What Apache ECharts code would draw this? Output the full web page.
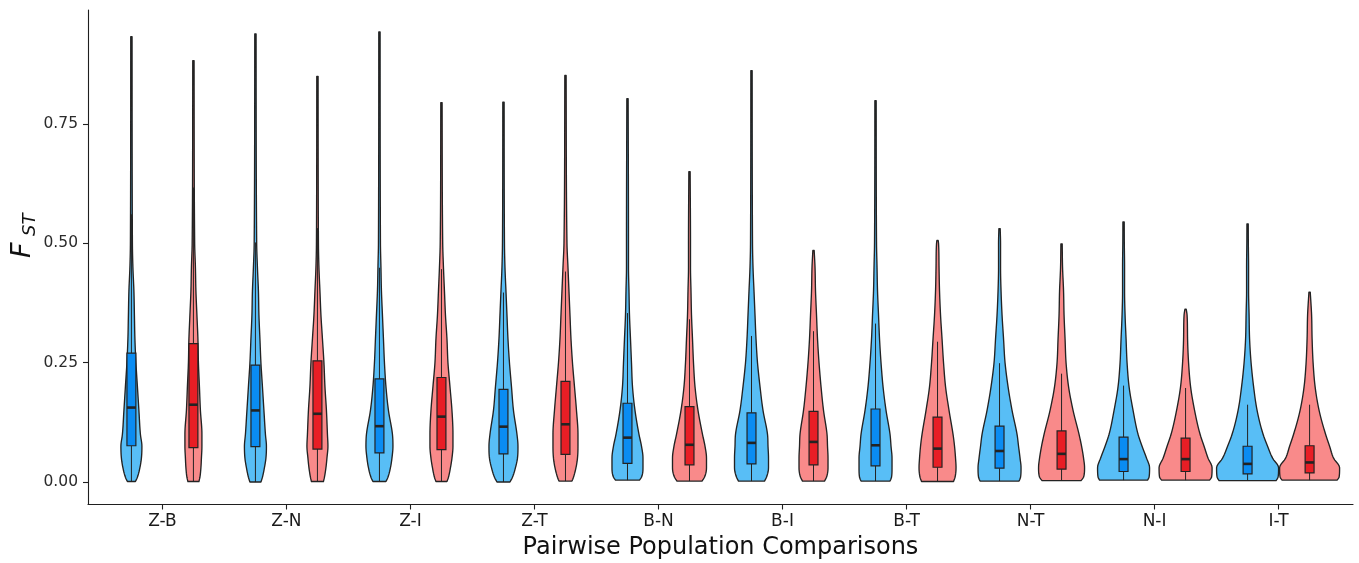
<!DOCTYPE html>
<html>
<head>
<meta charset="utf-8">
<script src="https://cdn.jsdelivr.net/npm/echarts@6/dist/echarts.min.js"></script>
<style>
  html, body { margin: 0; padding: 0; background: #ffffff; }
  #chart { width: 1359px; height: 563px; }
</style>
</head>
<body>
<div id="chart"></div>
<script>
// Pairwise population comparisons along the x axis
const categories = ['Z-B', 'Z-N', 'Z-I', 'Z-T', 'B-N', 'B-I', 'B-T', 'N-T', 'N-I', 'I-T'];
const yTicks = [0, 0.25, 0.5, 0.75];

// Box statistics, blue group
const blueMin    = [0.001, 0.000, 0.001, 0.000, 0.004, 0.002, 0.002, 0.002, 0.004, 0.003];
const blueQ1     = [0.076, 0.074, 0.061, 0.059, 0.039, 0.038, 0.034, 0.029, 0.022, 0.017];
const blueMedian = [0.156, 0.150, 0.117, 0.116, 0.093, 0.082, 0.077, 0.065, 0.048, 0.038];
const blueQ3     = [0.270, 0.245, 0.216, 0.194, 0.165, 0.145, 0.153, 0.117, 0.094, 0.075];
const blueUpper  = [0.561, 0.502, 0.449, 0.397, 0.354, 0.306, 0.332, 0.249, 0.202, 0.162];
const blueMax    = [0.933, 0.939, 0.943, 0.796, 0.803, 0.862, 0.799, 0.531, 0.545, 0.541];

// Box statistics, red group
const redMin    = [0.001, 0.001, 0.001, 0.002, 0.002, 0.002, 0.001, 0.003, 0.004, 0.004];
const redQ1     = [0.072, 0.069, 0.068, 0.058, 0.036, 0.036, 0.031, 0.027, 0.022, 0.019];
const redMedian = [0.162, 0.143, 0.137, 0.121, 0.078, 0.084, 0.070, 0.059, 0.048, 0.041];
const redQ3     = [0.290, 0.254, 0.219, 0.211, 0.158, 0.148, 0.136, 0.107, 0.092, 0.076];
const redUpper  = [0.617, 0.532, 0.446, 0.441, 0.341, 0.316, 0.294, 0.227, 0.197, 0.162];
const redMax    = [0.883, 0.850, 0.795, 0.852, 0.650, 0.485, 0.506, 0.499, 0.362, 0.398];

// Relative kernel density at these FST levels (first level = sample minimum)
const densityLevels = [0, 0.01, 0.03, 0.05, 0.075, 0.1, 0.15, 0.2, 0.25, 0.3, 0.35, 0.4, 0.45, 0.5];
const blueDensity = [
  [8, 12, 17, 20, 21, 18, 15, 12, 9, 7, 6, 5, 3, 2],
  [11, 14, 18, 21, 22, 20, 17, 14, 11, 9, 7, 6, 4, 2.5],
  [13, 17, 22, 25, 27, 26, 18, 13, 10, 8, 6, 4, 3, 2],
  [13, 18, 24, 28, 29, 27, 20, 16, 12, 9, 7, 5, 3, 2],
  [24, 28, 31, 31, 28, 23, 15, 10, 8, 6, 4, 3, 2, 2],
  [26, 30, 34, 34, 33, 32, 23, 17, 12, 9, 7, 5, 3, 2],
  [29, 32, 33, 33, 31, 29, 21, 15, 11, 8, 6, 4, 3, 2],
  [39, 42, 43, 41, 38, 35, 25, 17, 11, 8, 5, 3, 2, 2],
  [48, 51, 52, 46, 37, 29, 19, 11, 7, 5, 3, 2, 2, 1.5],
  [57, 61, 62, 50, 40, 31, 19, 12, 7, 4, 3, 2, 2, 1.5]
];
const redDensity = [
  [11, 13, 15, 16, 17, 17, 14, 12, 10, 9, 7, 5, 4, 2.5],
  [12, 14, 17, 19, 21, 20, 18, 15, 13, 10, 7, 5, 3, 2],
  [11, 14, 18, 21, 23, 23, 21, 17, 13, 11, 8, 6, 4, 2.5],
  [13, 16, 21, 24, 25, 25, 22, 18, 14, 11, 9, 7, 5, 3],
  [25, 30, 34, 34, 31, 26, 17, 11, 8, 6, 4, 3, 2, 2],
  [22, 26, 29, 29, 28, 27, 20, 15, 11, 8, 6, 4, 3, 2],
  [32, 35, 37, 36, 34, 31, 23, 16, 12, 9, 6, 4, 3, 2],
  [39, 44, 46, 44, 40, 35, 23, 14, 9, 7, 5, 4, 2, 2],
  [48, 52, 53, 45, 37, 29, 18, 10, 6, 4, 3, 2, 2, 1.5],
  [55, 59, 60, 48, 40, 32, 19, 11, 7, 5, 4, 2, 2, 1.5]
];
const tailDensity = 1.3;

const FONT = 'DejaVu Sans';
const OUTLINE = '#232323';
const DODGE = 0.25;          // half of the dodge width, in category units
const VIOLIN_HALF = 0.25;    // half width of the widest violin, in category units
const BOX_HALF = 0.036;      // half width of the inner box, in category units

const maxDensity = Math.max(...blueDensity.flat(), ...redDensity.flat());

// Monotone cubic (Fritsch-Carlson) sampling of a profile f(x)
function monotoneSample(xs, ys, stepsFor) {
  const n = xs.length;
  if (n < 2) return xs.map((x, i) => [x, ys[i]]);
  const d = [], m = new Array(n);
  for (let k = 0; k < n - 1; k++) d.push((ys[k + 1] - ys[k]) / (xs[k + 1] - xs[k]));
  m[0] = d[0]; m[n - 1] = d[n - 2];
  for (let k = 1; k < n - 1; k++) m[k] = d[k - 1] * d[k] <= 0 ? 0 : (d[k - 1] + d[k]) / 2;
  for (let k = 0; k < n - 1; k++) {
    if (d[k] === 0) { m[k] = 0; m[k + 1] = 0; continue; }
    const a = m[k] / d[k], b = m[k + 1] / d[k], s = a * a + b * b;
    if (s > 9) { const t = 3 / Math.sqrt(s); m[k] = t * a * d[k]; m[k + 1] = t * b * d[k]; }
  }
  const out = [];
  for (let k = 0; k < n - 1; k++) {
    const h = xs[k + 1] - xs[k];
    const steps = stepsFor(k);
    for (let j = 0; j < steps; j++) {
      const t = j / steps, t2 = t * t, t3 = t2 * t;
      const f = (2 * t3 - 3 * t2 + 1) * ys[k] + (t3 - 2 * t2 + t) * h * m[k] +
                (-2 * t3 + 3 * t2) * ys[k + 1] + (t3 - t2) * h * m[k + 1];
      out.push([xs[k] + t * h, Math.max(f, 0.2)]);
    }
  }
  out.push([xs[n - 1], ys[n - 1]]);
  return out;
}

function violinSeries(name, offset, lo, q1, med, q3, hi, mx, dens, fill, boxFill) {
  return {
    type: 'custom',
    name: name,
    coordinateSystem: 'cartesian2d',
    data: categories.map((c, i) => [i + 1 + offset, lo[i], q1[i], med[i], q3[i], hi[i], mx[i]]),
    encode: { x: 0, y: [1, 2, 3, 4, 5, 6] },
    renderItem: function (params, api) {
      const i = params.dataIndex;
      const xc = api.value(0);
      const vLo = api.value(1), vQ1 = api.value(2), vMed = api.value(3);
      const vQ3 = api.value(4), vHi = api.value(5), vMax = api.value(6);
      const cx = api.coord([xc, 0])[0];
      const unit = api.size([1, 0])[0];
      const half = dv => VIOLIN_HALF * dv / maxDensity * unit;

      // density profile up to the sample maximum
      const xs = [], ws = [];
      densityLevels.forEach((lv, k) => {
        if (k === 0) { xs.push(vLo); ws.push(half(dens[i][k])); }
        else if (lv < vMax - 0.005) { xs.push(lv); ws.push(half(dens[i][k])); }
      });
      xs.push(vMax); ws.push(half(tailDensity));
      const ppu = api.size([0, 1])[1];
      const prof = monotoneSample(xs, ws, k => Math.max(2, Math.ceil((xs[k + 1] - xs[k]) * ppu / 2)));
      const right = prof.map(p => [cx + p[1], api.coord([xc, p[0]])[1]]);
      const left = prof.slice().reverse().map(p => [cx - p[1], api.coord([xc, p[0]])[1]]);

      const boxTL = api.coord([xc - BOX_HALF, vQ3]);
      const boxBR = api.coord([xc + BOX_HALF, vQ1]);
      const yLo = api.coord([xc, vLo])[1];
      const yHi = api.coord([xc, vHi])[1];
      const yMed = api.coord([xc, vMed])[1];

      return {
        type: 'group',
        children: [
          { type: 'polygon', shape: { points: right.concat(left) },
            style: { fill: fill, stroke: OUTLINE, lineWidth: 1.35, lineJoin: 'round' } },
          { type: 'line', shape: { x1: cx, y1: boxBR[1], x2: cx, y2: yLo },
            style: { stroke: OUTLINE, lineWidth: 1 } },
          { type: 'line', shape: { x1: cx, y1: boxTL[1], x2: cx, y2: yHi },
            style: { stroke: OUTLINE, lineWidth: 1 } },
          { type: 'rect', shape: { x: boxTL[0], y: boxTL[1], width: boxBR[0] - boxTL[0], height: boxBR[1] - boxTL[1] },
            style: { fill: boxFill, stroke: OUTLINE, lineWidth: 1.2 } },
          { type: 'line', shape: { x1: boxTL[0], y1: yMed, x2: boxBR[0], y2: yMed },
            style: { stroke: OUTLINE, lineWidth: 2.6 } }
        ]
      };
    }
  };
}

const chart = echarts.init(document.getElementById('chart'), null, { renderer: 'canvas' });
chart.setOption({
  animation: false,
  backgroundColor: '#ffffff',
  grid: { left: 88, right: 6, top: 10, bottom: 58.5, outerBoundsMode: 'none' },
  xAxis: {
    type: 'value',
    min: 0.4,
    max: 10.6,
    splitLine: { show: false },
    axisLine: { show: true, onZero: false, lineStyle: { color: '#1f1f1f', width: 1.1 } },
    axisTick: { show: true, length: 5, customValues: categories.map((c, i) => i + 1),
                lineStyle: { color: '#1f1f1f', width: 1.1 } },
    axisLabel: {
      customValues: categories.map((c, i) => i + 1),
      formatter: v => categories[Math.round(v) - 1],
      fontFamily: FONT, fontSize: 17, color: '#1a1a1a', margin: 9
    },
    name: 'Pairwise Population Comparisons',
    nameLocation: 'middle',
    nameGap: 31,
    nameTextStyle: { fontFamily: FONT, fontSize: 24, color: '#111111' }
  },
  yAxis: {
    type: 'value',
    min: -0.0471,
    max: 0.989,
    splitLine: { show: false },
    axisLine: { show: true, onZero: false, lineStyle: { color: '#1f1f1f', width: 1.1 } },
    axisTick: { show: true, length: 5, customValues: yTicks, lineStyle: { color: '#1f1f1f', width: 1.1 } },
    axisLabel: {
      customValues: yTicks,
      formatter: v => v.toFixed(2),
      fontFamily: FONT, fontSize: 15.5, color: '#2b2b2b', margin: 10
    }
  },
  graphic: [{
    type: 'group',
    x: 23,
    y: 258,
    rotation: Math.PI / 2,
    children: [
      { type: 'text', x: 0, y: 0,
        style: { text: 'F', fontFamily: FONT, fontStyle: 'italic', fontSize: 27, fill: '#111111',
                 align: 'left', verticalAlign: 'middle' } },
      { type: 'text', x: 22, y: 7,
        style: { text: 'ST', fontFamily: FONT, fontStyle: 'italic', fontSize: 18, fill: '#111111',
                 align: 'left', verticalAlign: 'middle' } }
    ]
  }],
  series: [
    violinSeries('blue', -DODGE, blueMin, blueQ1, blueMedian, blueQ3, blueUpper, blueMax, blueDensity, '#58BEF6', '#0A8CF2'),
    violinSeries('red', DODGE, redMin, redQ1, redMedian, redQ3, redUpper, redMax, redDensity, '#F98A8A', '#E81E25')
  ]
});
</script>
</body>
</html>
